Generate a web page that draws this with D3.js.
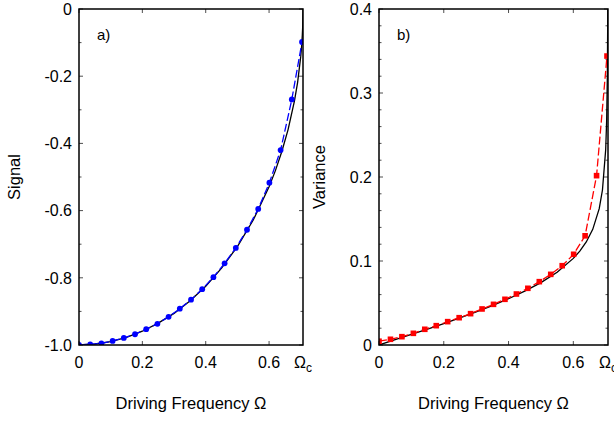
<!DOCTYPE html>
<html>
<head>
<meta charset="utf-8">
<script src="https://cdn.jsdelivr.net/npm/d3@7"></script>
<style>
  body{margin:0;background:#fff;}
  svg{font-family:"Liberation Sans",Arial,sans-serif;}
  .frame{fill:none;stroke:#000;stroke-width:1.5;}
</style>
</head>
<body>
<svg width="614" height="422"></svg>
<script>
// critical frequency (axis end)
var omegaC=0.7071;

// simulation points, shared frequency grid
var simOmega=[0,0.0354,0.0707,0.1061,0.1414,0.1768,0.2121,0.2475,0.2828,0.3182,0.3536,
  0.3889,0.4243,0.4596,0.4950,0.5303,0.5657,0.6010,0.6364,0.6718,0.7040];
var simSignal=[-1.0,-0.998,-0.995,-0.988,-0.979,-0.968,-0.953,-0.937,-0.916,-0.892,-0.865,
  -0.834,-0.798,-0.757,-0.711,-0.657,-0.595,-0.517,-0.420,-0.269,-0.098];
var simVariance=[0.0045,0.0068,0.0099,0.0139,0.0187,0.0230,0.0278,0.0325,0.0373,0.0429,0.0484,
  0.0544,0.0607,0.0675,0.0754,0.0841,0.0944,0.108,0.130,0.2016,0.344];

// theory curves
var theoryOmega=[0,0.05,0.1,0.15,0.2,0.25,0.3,0.35,0.4,0.45,0.5,0.55,0.6,0.62,0.64,0.66,0.68,0.69,0.70,0.703,0.705,0.706,0.7063,0.7071];
var theorySignal=[-1.0,-0.997,-0.990,-0.977,-0.959,-0.935,-0.906,-0.869,-0.825,-0.771,-0.707,-0.628,-0.529,-0.481,-0.425,-0.359,-0.274,-0.219,-0.141,-0.108,-0.077,-0.056,-0.045,0];
var theoryVariance=[0,0.0063,0.0126,0.0190,0.0255,0.0323,0.0394,0.0469,0.0551,0.0641,0.0743,0.0867,0.1031,0.1118,0.1227,0.1377,0.1623,0.1845,0.2327,0.2679,0.3173,0.3732,0.404,0.6];

var xTicks=[0,0.2,0.4,0.6];
var signalTicks=[0,-0.2,-0.4,-0.6,-0.8,-1.0];
var signalMinor=[-0.1,-0.3,-0.5,-0.7,-0.9];
var varianceTicks=[0,0.1,0.2,0.3,0.4];
var varianceMinor=[0.02,0.04,0.06,0.08,0.12,0.14,0.16,0.18,0.22,0.24,0.26,0.28,0.32,0.34,0.36,0.38];

var svg=d3.select("svg");

var drawPanel=function(opt){
  var left=opt.left, right=opt.right, top=9, bottom=345;
  var x=d3.scaleLinear().domain([0,omegaC]).range([left,right]);
  var y=d3.scaleLinear().domain(opt.yDomain).range([bottom,top]);
  var g=svg.append("g");

  var clipId="clip-"+opt.id;
  svg.append("clipPath").attr("id",clipId)
    .append("rect").attr("x",left).attr("y",top).attr("width",right-left).attr("height",bottom-top);

  // ticks pointing inward, on all four sides
  var tickG=g.append("g").attr("stroke","#222").attr("stroke-width",0.8);
  xTicks.forEach(function(t){
    tickG.append("line").attr("x1",x(t)).attr("x2",x(t)).attr("y1",bottom).attr("y2",bottom-4);
    tickG.append("line").attr("x1",x(t)).attr("x2",x(t)).attr("y1",top).attr("y2",top+4);
  });
  opt.yTicks.forEach(function(t){
    tickG.append("line").attr("x1",left).attr("x2",left+4).attr("y1",y(t)).attr("y2",y(t));
    tickG.append("line").attr("x1",right).attr("x2",right-4).attr("y1",y(t)).attr("y2",y(t));
  });
  opt.yMinor.forEach(function(t){
    tickG.append("line").attr("x1",left).attr("x2",left+2.5).attr("y1",y(t)).attr("y2",y(t));
    tickG.append("line").attr("x1",right).attr("x2",right-2.5).attr("y1",y(t)).attr("y2",y(t));
  });

  // tick labels
  g.selectAll("text.xt").data(xTicks).enter().append("text")
    .attr("class","xt").attr("x",function(d){return x(d);}).attr("y",bottom+23)
    .attr("text-anchor","middle").attr("font-size",16)
    .text(function(d){return d===0?"0":d3.format(".1f")(d);});
  var oc=g.append("text").attr("x",x(omegaC)).attr("y",bottom+23)
    .attr("text-anchor","middle").attr("font-size",16);
  oc.append("tspan").text("\u03A9");
  oc.append("tspan").attr("font-size",12).attr("dy",4).text("c");

  g.selectAll("text.yt").data(opt.yTicks).enter().append("text")
    .attr("class","yt").attr("x",left-7).attr("y",function(d){return y(d);})
    .attr("dy","0.36em").attr("text-anchor","end").attr("font-size",16)
    .text(opt.yFormat);

  // axis titles
  g.append("text").attr("x",(left+right)/2).attr("y",409)
    .attr("text-anchor","middle").attr("font-size",16.5).text("Driving Frequency \u03A9");
  g.append("text").attr("transform","translate("+opt.titleX+","+((top+bottom)/2)+")rotate(-90)")
    .attr("text-anchor","middle").attr("font-size",16.5).text(opt.title);
  g.append("text").attr("x",left+18).attr("y",40).attr("font-size",15).text(opt.label);

  var line=d3.line().x(function(d){return x(d[0]);}).y(function(d){return y(d[1]);});
  var plot=g.append("g").attr("clip-path","url(#"+clipId+")");

  plot.append("path").datum(d3.zip(theoryOmega,opt.theory))
    .attr("d",line).attr("fill","none").attr("stroke","#000").attr("stroke-width",1.3);
  plot.append("path").datum(d3.zip(simOmega,opt.sim))
    .attr("d",line).attr("fill","none").attr("stroke",opt.color)
    .attr("stroke-width",1.3).attr("stroke-dasharray","8,3");

  var pts=d3.zip(simOmega,opt.sim);
  if(opt.marker==="circle"){
    plot.selectAll("circle").data(pts).enter().append("circle")
      .attr("cx",function(d){return x(d[0]);}).attr("cy",function(d){return y(d[1]);})
      .attr("r",2.9).attr("fill",opt.color);
  } else {
    plot.selectAll("rect.m").data(pts).enter().append("rect").attr("class","m")
      .attr("x",function(d){return x(d[0])-2.8;}).attr("y",function(d){return y(d[1])-2.8;})
      .attr("width",5.6).attr("height",5.6).attr("fill",opt.color);
  }

  g.append("rect").attr("class","frame").attr("x",left).attr("y",top)
    .attr("width",right-left).attr("height",bottom-top);
};

drawPanel({id:"a",left:79,right:303,yDomain:[-1,0],yTicks:signalTicks,yMinor:signalMinor,
  yFormat:function(d){return d===0?"0":d3.format(".1f")(d).replace("\u2212","-");},
  title:"Signal",titleX:20,label:"a)",theory:theorySignal,sim:simSignal,color:"#0000ff",marker:"circle"});

drawPanel({id:"b",left:379,right:608,yDomain:[0,0.4],yTicks:varianceTicks,yMinor:varianceMinor,
  yFormat:function(d){return d===0?"0":d3.format(".1f")(d);},
  title:"Variance",titleX:325,label:"b)",theory:theoryVariance,sim:simVariance,color:"#ff0000",marker:"square"});
</script>
</body>
</html>
